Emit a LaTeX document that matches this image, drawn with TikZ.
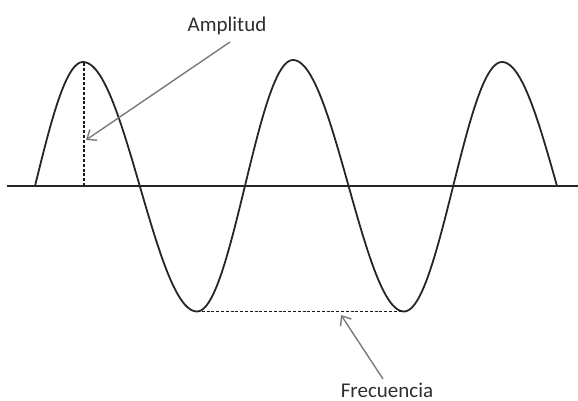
\documentclass[tikz,border=0pt]{standalone}
\usepackage{fontspec}
\setmainfont{Carlito}
\usetikzlibrary{arrows.meta}
\definecolor{wave}{HTML}{262626}
\definecolor{lbl}{HTML}{2E2E2E}
\definecolor{arr}{HTML}{7A7A7A}
\tikzset{
  wavepath/.style={wave, line width=1.8pt, line join=round},
  axisline/.style={black!85, line width=1.3pt},
  dashline/.style={black!90, line width=1.9pt, dash pattern=on 3pt off 1.8pt},
  pointer/.style={arr, line width=1.4pt, -{Straight Barb[length=8pt,width=13pt,line width=1.4pt]}},
  label/.style={lbl, font=\fontsize{21}{24}\selectfont, anchor=base, inner sep=0pt}
}
\begin{document}
\begin{tikzpicture}[x=1pt,y=-1pt]
\useasboundingbox (0,0) rectangle (578,401);
% axis
\coordinate (axL) at (7,186);
\coordinate (axR) at (578,186);
\draw[axisline] (axL) -- (axR);
% wave
\draw[wavepath]
  plot[domain=0:1, samples=30, variable=\t] ({35+48*\t}, {186-124*sin(90*\t)})
  -- plot[domain=0:1, samples=50, variable=\t] ({83+114*\t}, {62+249.5*(1-cos(180*\t))/2})
  -- plot[domain=0:1, samples=50, variable=\t] ({197+96*\t}, {311.5-251.5*(1-cos(180*\t))/2})
  -- plot[domain=0:1, samples=50, variable=\t] ({293+111*\t}, {60+251.5*(1-cos(180*\t))/2})
  -- plot[domain=0:1, samples=50, variable=\t] ({404+98*\t}, {311.5-249.5*(1-cos(180*\t))/2})
  -- plot[domain=0:1, samples=30, variable=\t] ({502+55*\t}, {62+124*(1-cos(90*\t))});
% dashed guides
\coordinate (pk1) at (84,63);
\coordinate (pk1b) at (84,186);
\coordinate (tr1) at (197,311.5);
\coordinate (tr2) at (404,311.5);
\draw[dashline] (pk1) -- (pk1b);
\draw[dashline] (tr1) -- (tr2);
% labels
\node[label] (amp) at (227,32) {Amplitud};
\node[label] (fre) at (387,397) {Frecuencia};
\coordinate (ampS) at (230,42);
\coordinate (ampT) at (86,140);
\coordinate (freS) at (383,379);
\coordinate (freT) at (341,315);
\draw[pointer] (ampS) -- (ampT);
\draw[pointer] (freS) -- (freT);
\end{tikzpicture}
\end{document}
